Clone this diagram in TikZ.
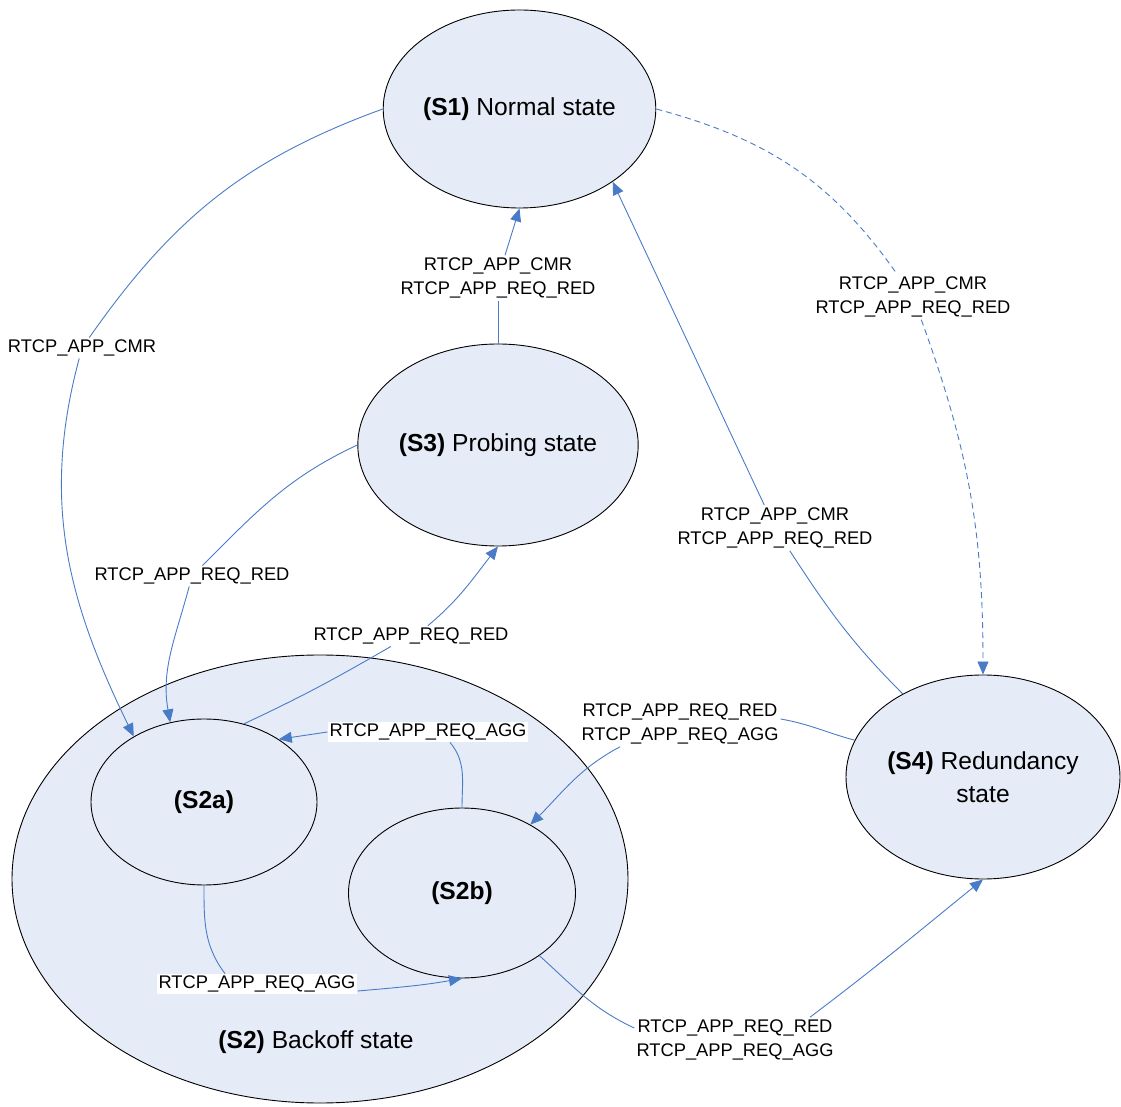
\documentclass[tikz,border=0pt]{standalone}
\usepackage{fontspec}
\setmainfont{Liberation Sans}
\usetikzlibrary{shapes.geometric,arrows.meta}
\definecolor{linec}{HTML}{4A7BC8}
\definecolor{fillc}{HTML}{E6ECF7}
\tikzset{
  st/.style={ellipse, draw=black, line width=0.9pt, fill=fillc, inner sep=0pt, align=center,
    font=\fontsize{24.6}{33}\selectfont},
  lbl/.style={fill=white, inner sep=2pt, align=center, font=\fontsize{18.3}{24.8}\selectfont},
  conn/.style={draw=linec, line width=0.9pt},
  arr/.style={-{Triangle[length=13pt,width=11pt]}},
  dsh/.style={dash pattern=on 6pt off 4pt}
}
\begin{document}
\begin{tikzpicture}[x=1pt,y=1pt]
\useasboundingbox (0,0) rectangle (1121,1106);
% states
\node[st, minimum width=616pt, minimum height=448pt] (s2) at (320,227) {};
\node[st, minimum width=226pt, minimum height=166pt] (s2a) at (204,304) {\textbf{(S2a)}};
\node[st, minimum width=227pt, minimum height=170pt] (s2b) at (462,213) {\textbf{(S2b)}};
\node[st, minimum width=269pt, minimum height=198pt] (s1) at (519.5,997) {\textbf{(S1)} Normal state};
\node[st, minimum width=278pt, minimum height=202pt] (s3) at (498,661) {\textbf{(S3)} Probing state};
\node[st, minimum width=274pt, minimum height=204pt] (s4) at (983,329) {\textbf{(S4)} Redundancy\\state};
\node[font=\fontsize{24.6}{33}\selectfont] (s2lbl) at (316,64) {\textbf{(S2)} Backoff state};
% labels
\node[lbl] (lcmr) at (82,758) {RTCP\_APP\_CMR};
\node[lbl] (l31) at (498,828) {RTCP\_APP\_CMR\\RTCP\_APP\_REQ\_RED};
\node[lbl] (l32a) at (192,530) {RTCP\_APP\_REQ\_RED};
\node[lbl] (l2a3) at (411,470) {RTCP\_APP\_REQ\_RED};
\node[lbl] (l2b2a) at (428,374) {RTCP\_APP\_REQ\_AGG};
\node[lbl] (l2a2b) at (257,122) {RTCP\_APP\_REQ\_AGG};
\node[lbl] (l41) at (775,578) {RTCP\_APP\_CMR\\RTCP\_APP\_REQ\_RED};
\node[lbl] (l14) at (913,809) {RTCP\_APP\_CMR\\RTCP\_APP\_REQ\_RED};
\node[lbl] (l42b) at (680,382) {RTCP\_APP\_REQ\_RED\\RTCP\_APP\_REQ\_AGG};
\node[lbl] (l2b4) at (735,66) {RTCP\_APP\_REQ\_RED\\RTCP\_APP\_REQ\_AGG};
% connectors
\draw[conn] (s1.west) to[out=200, in=55] (lcmr);
\draw[conn,arr] (lcmr) to[out=255, in=116] (s2a.137);
\draw[conn] (s3.north) -- (l31);
\draw[conn,arr] (l31) -- (s1.south);
\draw[conn] (s3.west) to[out=205, in=45] (l32a);
\draw[conn,arr] (l32a) to[out=255, in=100] (s2a.113);
\draw[conn] (s2a.63) to[out=25, in=210] ([xshift=-20pt]l2a3.south);
\draw[conn,arr] ([xshift=17pt]l2a3.north) to[out=40, in=232] (s3.south);
\draw[conn] (s2b.north) to[out=90, in=-50] ([xshift=22pt]l2b2a.south);
\draw[conn,arr] (l2b2a.west) -- (s2a.40);
\draw[conn] (s2a.south) to[out=-90, in=127] ([xshift=-32pt]l2a2b.north);
\draw[conn,arr] ([yshift=-7pt]l2a2b.east) to[out=5, in=190] (s2b.south);
\draw[conn] (s4.134) to[out=135, in=-57] (l41);
\draw[conn,arr] (l41) -- (s1.-38);
\draw[conn,dsh] (s1.east) to[out=-15, in=125] (l14);
\draw[conn,dsh,arr] (l14) to[out=-70, in=90] (s4.north);
\draw[conn] (s4.164) to[out=165, in=-10] ([yshift=5pt]l42b.east);
\draw[conn,arr] ([xshift=-60pt]l42b.south) to[out=208, in=45] (s2b.45);
\draw[conn] (s2b.-39) to[out=-42, in=155] ([yshift=12pt]l2b4.west);
\draw[conn,arr] ([xshift=75pt]l2b4.north) to[out=37, in=219] (s4.south);
\end{tikzpicture}
\end{document}
